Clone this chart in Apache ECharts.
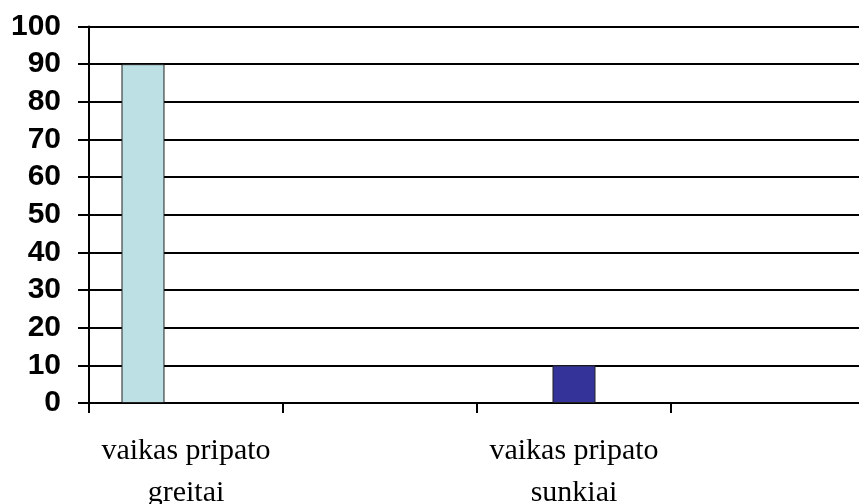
<!DOCTYPE html>
<html>
<head>
<meta charset="utf-8">
<script src="https://cdn.jsdelivr.net/npm/echarts@6/dist/echarts.min.js"></script>
<style>
  html, body { margin: 0; padding: 0; background: #fff; }
  #chart { width: 859px; height: 504px; }
</style>
</head>
<body>
<div id="chart"></div>
<script>
// categories (every other one is unlabeled, as in the original)
const categories = ["vaikas pripato\ngreitai", "", "vaikas pripato\nsunkiai", ""];
const greitaiValues = [90, "-", "-", "-"];
const sunkiaiValues = ["-", "-", 10, "-"];
const emptyValues = ["-", "-", "-", "-"];
const yTicks = { min: 0, max: 100, interval: 10 };

const chart = echarts.init(document.getElementById("chart"), null, { renderer: "canvas" });

chart.setOption({
  animation: false,
  grid: { left: 89, right: -6, top: 26.5, bottom: 101, containLabel: false, outerBoundsMode: "none" },
  xAxis: {
    type: "category",
    data: categories,
    axisLine: { lineStyle: { color: "#000", width: 2 } },
    axisTick: { show: true, interval: 0, length: 10, lineStyle: { color: "#000", width: 2 } },
    axisLabel: {
      interval: 0,
      margin: 27,
      color: "#000",
      fontFamily: "Liberation Serif, Times New Roman, serif",
      fontSize: 30,
      lineHeight: 42,
    },
    splitLine: { show: false },
  },
  yAxis: {
    type: "value",
    min: yTicks.min,
    max: yTicks.max,
    interval: yTicks.interval,
    axisLine: { show: true, lineStyle: { color: "#000", width: 2 } },
    axisTick: { show: true, length: 11, lineStyle: { color: "#000", width: 2 } },
    axisLabel: {
      margin: 28,
      color: "#000",
      fontFamily: "Liberation Sans, Arial, sans-serif",
      fontWeight: "bold",
      fontSize: 30,
    },
    splitLine: { lineStyle: { color: "#000", width: 2 } },
  },
  series: [
    {
      type: "bar",
      data: greitaiValues,
      barGap: "0%",
      barCategoryGap: "33.5%",
      itemStyle: { color: "#BCE0E3", borderColor: "#222", borderWidth: 1 },
    },
    {
      type: "bar",
      data: sunkiaiValues,
      itemStyle: { color: "#333399", borderColor: "#222", borderWidth: 1 },
    },
    {
      type: "bar",
      data: emptyValues,
      itemStyle: { color: "#FFFFCC", borderColor: "#222", borderWidth: 1 },
    },
  ],
});
</script>
</body>
</html>
